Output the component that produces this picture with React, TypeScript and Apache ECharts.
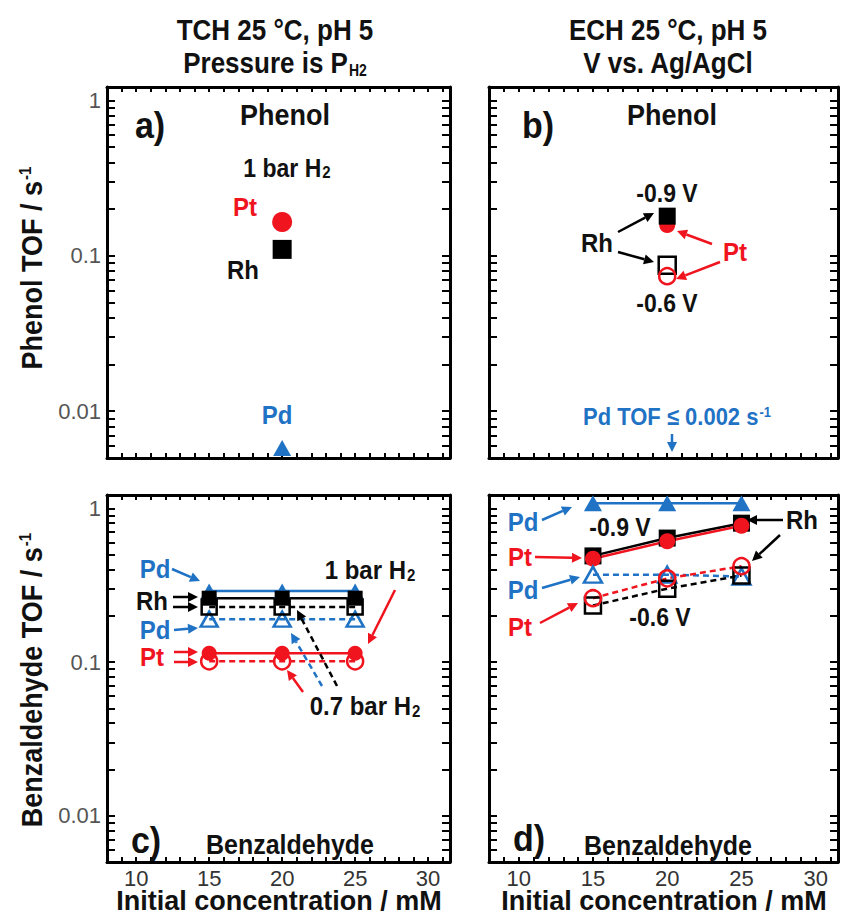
import React, { useEffect, useRef } from 'react';
import * as echarts from 'echarts';

// ---------- data ----------
const concentrations = [15, 20, 25]; // mM, benzaldehyde runs
const phenolConcentration = [20]; // mM, phenol runs

// a) TCH, phenol, 1 bar H2
const tchPhenolPt = [0.165];
const tchPhenolRh = [0.11];
const tchPhenolPd = [0.0058];

// b) ECH, phenol
const echPhenolRhM09 = [0.18];
const echPhenolPtM09 = [0.158];
const echPhenolRhM06 = [0.087];
const echPhenolPtM06 = [0.074];

// c) TCH, benzaldehyde
const tchBenzPd1bar = [0.29, 0.29, 0.29];
const tchBenzRh1bar = [0.26, 0.26, 0.26];
const tchBenzRh07bar = [0.228, 0.228, 0.228];
const tchBenzPd07bar = [0.19, 0.19, 0.19];
const tchBenzPt1bar = [0.114, 0.114, 0.114];
const tchBenzPt07bar = [0.101, 0.101, 0.101];

// d) ECH, benzaldehyde
const echBenzPdM09 = [1.08, 1.08, 1.08];
const echBenzRhM09 = [0.49, 0.64, 0.8];
const echBenzPtM09 = [0.47, 0.61, 0.77];
const echBenzPdM06 = [0.37, 0.37, 0.36];
const echBenzPtM06 = [0.26, 0.35, 0.42];
const echBenzRhM06 = [0.233, 0.3, 0.365];

// ---------- ticks ----------
const xTickLabels = [10, 15, 20, 25, 30];
const xTicks = [8, 9, 10, 11, 12, 13, 14, 15, 16, 17, 18, 19, 20, 21, 22, 23, 24, 25, 26, 27, 28, 29, 30, 31];
const yTickLabels = [0.01, 0.1, 1];
const yTicks = [
  0.005, 0.006, 0.007, 0.008, 0.009,
  0.01, 0.02, 0.03, 0.04, 0.05, 0.06, 0.07, 0.08, 0.09,
  0.1, 0.2, 0.3, 0.4, 0.5, 0.6, 0.7, 0.8, 0.9, 1,
];
const xTitle = 'Initial concentration / mM';

const FONT = '"Liberation Sans", Arial, Helvetica, sans-serif';
const RED = '#f0141e';
const BLUE = '#1f72c4';
const BLACK = '#000000';

const grids = [
  { left: 107, top: 87, width: 343, height: 371 },
  { left: 489, top: 87, width: 349, height: 371 },
  { left: 107, top: 495, width: 343, height: 367 },
  { left: 489, top: 495, width: 349, height: 367 },
];

function buildAxes() {
  const xAxis: any[] = [];
  const yAxis: any[] = [];
  grids.forEach((_, i) => {
    const bottomRow = i >= 2;
    const leftCol = i % 2 === 0;
    ['bottom', 'top'].forEach((pos) => {
      const lab = bottomRow && pos === 'bottom';
      xAxis.push({
        type: 'value',
        gridIndex: i,
        position: pos,
        min: 8,
        max: 31.5,
        axisLine: { show: true, onZero: false, lineStyle: { color: BLACK, width: 3 } },
        axisTick: { show: true, inside: true, length: 5, customValues: xTicks, lineStyle: { color: BLACK, width: 2 } },
        axisLabel: {
          show: lab,
          customValues: xTickLabels,
          color: '#333',
          fontSize: 22,
          fontFamily: FONT,
          margin: 5,
        },
        splitLine: { show: false },
      });
    });
    ['left', 'right'].forEach((pos) => {
      const lab = leftCol && pos === 'left';
      yAxis.push({
        type: 'log',
        logBase: 10,
        gridIndex: i,
        position: pos,
        min: 0.005,
        max: 1.22,
        axisLine: { show: true, onZero: false, lineStyle: { color: BLACK, width: 3 } },
        axisTick: { show: true, inside: true, length: 8, customValues: yTicks, lineStyle: { color: BLACK, width: 2 } },
        axisLabel: {
          show: lab,
          customValues: yTickLabels,
          color: '#555',
          fontSize: 22,
          fontFamily: FONT,
          margin: 6,
          formatter: (v: number) => (v >= 1 ? '1' : String(+Number(v).toPrecision(3))),
        },
        splitLine: { show: false },
        minorTick: { show: false },
      });
    });
  });
  return { xAxis, yAxis };
}

function pts(xs: number[], ys: number[]) {
  return xs.map((x, k) => [x, ys[k]]);
}

function series(
  g: number,
  xs: number[],
  ys: number[],
  color: string,
  symbol: string,
  size: number | number[],
  filled: boolean,
  dashed: boolean,
) {
  return {
    type: 'line',
    xAxisIndex: g * 2,
    yAxisIndex: g * 2,
    data: pts(xs, ys),
    symbol,
    symbolSize: size,
    showSymbol: true,
    lineStyle: { color, width: 2.5, type: dashed ? [6, 4] : 'solid' },
    itemStyle: filled
      ? { color, borderColor: color, borderWidth: 0 }
      : { color: 'rgba(255,255,255,0)', borderColor: color, borderWidth: 2.5 },
    emphasis: { disabled: true },
    z: 3,
  };
}

// ---------- annotation helpers ----------
function txt(x: number, y: number, text: string, color: string, size: number, extra: any = {}) {
  return {
    type: 'text',
    x,
    y,
    scaleY: extra.scaleY ?? 1.1,
    rotation: extra.rotation ?? 0,
    silent: true,
    z: 100,
    style: {
      text,
      fill: color,
      font: `${extra.weight ?? 'bold'} ${size}px ${FONT}`,
      textAlign: extra.align ?? 'center',
      textVerticalAlign: 'middle',
      rich: extra.rich,
    },
  };
}

function sub(size: number, color: string) {
  return { fontSize: size, fontWeight: 'bold', fontFamily: FONT, fill: color, verticalAlign: 'bottom', padding: [0, 0, 0, 1] };
}
function sup(size: number, color: string) {
  return { fontSize: size, fontWeight: 'bold', fontFamily: FONT, fill: color, verticalAlign: 'top', padding: [0, 0, 0, 1] };
}

function arrow(x1: number, y1: number, x2: number, y2: number, color: string, dashed = false) {
  const dx = x2 - x1;
  const dy = y2 - y1;
  const len = Math.hypot(dx, dy);
  const ux = dx / len;
  const uy = dy / len;
  const hl = 10;
  const hw = 5;
  const bx = x2 - ux * hl;
  const by = y2 - uy * hl;
  return [
    {
      type: 'line',
      silent: true,
      z: 100,
      shape: { x1, y1, x2: bx, y2: by },
      style: { stroke: color, lineWidth: 2.5, lineDash: dashed ? [6, 4] : null },
    },
    {
      type: 'polygon',
      silent: true,
      z: 100,
      shape: { points: [[x2, y2], [bx - uy * hw, by + ux * hw], [bx + uy * hw, by - ux * hw]] },
      style: { fill: color },
    },
  ];
}

function buildGraphics() {
  const g: any[] = [];
  // column titles
  g.push(txt(275, 30, 'TCH 25 °C, pH 5', '#111', 26, { scaleY: 1.15 }));
  g.push(txt(275, 63, 'Pressure is P{s|H2}', '#111', 26, { scaleY: 1.15, rich: { s: sub(14, '#111') } }));
  g.push(txt(668, 30, 'ECH 25 °C, pH 5', '#111', 26, { scaleY: 1.15 }));
  g.push(txt(668, 63, 'V vs. Ag/AgCl', '#111', 26, { scaleY: 1.15 }));
  // y titles
  g.push(txt(32, 268, 'Phenol TOF / s{p|-1}', '#111', 27, { rotation: Math.PI / 2, rich: { p: sup(15, '#111') } }));
  g.push(txt(32, 680, 'Benzaldehyde TOF / s{p|-1}', '#111', 27, { rotation: Math.PI / 2, rich: { p: sup(15, '#111') } }));
  // x titles
  g.push(txt(279, 900, xTitle, '#111', 27, { scaleY: 1.05 }));
  g.push(txt(664, 900, xTitle, '#111', 27, { scaleY: 1.05 }));

  // panel a
  g.push(txt(150, 125, 'a)', '#111', 34));
  g.push(txt(285, 115, 'Phenol', '#111', 27));
  g.push(txt(287, 168, '1 bar H{s|2}', '#111', 23, { rich: { s: sub(15, '#111') } }));
  g.push(txt(245, 207, 'Pt', RED, 24));
  g.push(txt(243, 270, 'Rh', '#111', 24));
  g.push(txt(277, 415, 'Pd', BLUE, 24));

  // panel b
  g.push(txt(538, 125, 'b)', '#111', 34));
  g.push(txt(672, 115, 'Phenol', '#111', 27));
  g.push(txt(667, 193, '-0.9 V', '#111', 23));
  g.push(txt(597, 243, 'Rh', '#111', 24));
  g.push(txt(735, 252, 'Pt', RED, 24));
  g.push(txt(667, 303, '-0.6 V', '#111', 23));
  g.push(...arrow(618, 232, 654, 213, BLACK));
  g.push(...arrow(618, 252, 654, 262, BLACK));
  g.push(...arrow(712, 244, 677, 231, RED));
  g.push(...arrow(720, 262, 676, 279, RED));
  g.push(txt(677, 417, 'Pd TOF ≤ 0.002 s{p|-1}', BLUE, 22, { rich: { p: sup(13, BLUE) } }));
  g.push(...arrow(672, 434, 672, 452, BLUE));

  // panel c
  g.push(txt(155, 569, 'Pd', BLUE, 24));
  g.push(...arrow(172, 569, 200, 581, BLUE));
  g.push(txt(152, 601, 'Rh', '#111', 24));
  g.push(...arrow(173, 597, 198, 597, BLACK));
  g.push(...arrow(173, 607, 198, 607, BLACK));
  g.push(txt(155, 630, 'Pd', BLUE, 24));
  g.push(...arrow(174, 630, 198, 628, BLUE));
  g.push(txt(152, 657, 'Pt', RED, 24));
  g.push(...arrow(174, 652, 198, 652, RED));
  g.push(...arrow(174, 662, 198, 662, RED));
  g.push(txt(370, 570, '1 bar H{s|2}', '#111', 24, { rich: { s: sub(15, '#111') } }));
  g.push(...arrow(395, 590, 368, 644, RED));
  g.push(txt(365, 706, '0.7 bar H{s|2}', '#111', 24, { rich: { s: sub(15, '#111') } }));
  g.push(...arrow(303, 692, 287, 670, RED));
  g.push(...arrow(322, 686, 291, 633, BLUE, true));
  g.push(...arrow(337, 686, 297, 610, BLACK, true));
  g.push(txt(146, 840, 'c)', '#111', 34));
  g.push(txt(290, 845, 'Benzaldehyde', '#111', 25));

  // panel d
  g.push(txt(523, 522, 'Pd', BLUE, 24));
  g.push(...arrow(542, 520, 572, 507, BLUE));
  g.push(txt(620, 527, '-0.9 V', '#111', 23));
  g.push(txt(802, 520, 'Rh', '#111', 24));
  g.push(...arrow(783, 520, 747, 520, BLACK));
  g.push(...arrow(780, 535, 752, 561, BLACK));
  g.push(txt(520, 557, 'Pt', RED, 24));
  g.push(...arrow(535, 557, 582, 558, RED));
  g.push(txt(523, 590, 'Pd', BLUE, 24));
  g.push(...arrow(542, 588, 580, 577, BLUE));
  g.push(txt(520, 627, 'Pt', RED, 24));
  g.push(...arrow(540, 623, 578, 603, RED));
  g.push(txt(660, 617, '-0.6 V', '#111', 23));
  g.push(txt(529, 838, 'd)', '#111', 34));
  g.push(txt(668, 846, 'Benzaldehyde', '#111', 25));
  return g;
}

export default function App() {
  const ref = useRef<HTMLDivElement>(null);
  useEffect(() => {
    document.body.style.margin = '0';
    if (!ref.current) return;
    const chart = echarts.init(ref.current, undefined, { renderer: 'svg' });
    const { xAxis, yAxis } = buildAxes();
    const s: any[] = [
      // a
      series(0, phenolConcentration, tchPhenolRh, BLACK, 'rect', 19, true, false),
      series(0, phenolConcentration, tchPhenolPt, RED, 'circle', 20, true, false),
      series(0, phenolConcentration, tchPhenolPd, BLUE, 'triangle', [18, 16], true, false),
      // b
      series(1, phenolConcentration, echPhenolPtM09, RED, 'circle', 16, true, false),
      series(1, phenolConcentration, echPhenolRhM09, BLACK, 'rect', 17, true, false),
      series(1, phenolConcentration, echPhenolRhM06, BLACK, 'rect', 17, false, false),
      series(1, phenolConcentration, echPhenolPtM06, RED, 'circle', 16, false, false),
      // c
      series(2, concentrations, tchBenzPd07bar, BLUE, 'triangle', [17, 15], false, true),
      series(2, concentrations, tchBenzPd1bar, BLUE, 'triangle', [17, 15], true, false),
      series(2, concentrations, tchBenzRh07bar, BLACK, 'rect', 15, false, true),
      series(2, concentrations, tchBenzRh1bar, BLACK, 'rect', 15, true, false),
      series(2, concentrations, tchBenzPt07bar, RED, 'circle', 16, false, true),
      series(2, concentrations, tchBenzPt1bar, RED, 'circle', 15, true, false),
      // d
      series(3, concentrations, echBenzPdM09, BLUE, 'triangle', [18, 16], true, false),
      series(3, concentrations, echBenzRhM09, BLACK, 'rect', 17, true, false),
      series(3, concentrations, echBenzPtM09, RED, 'circle', 16, true, false),
      series(3, concentrations, echBenzPdM06, BLUE, 'triangle', [18, 16], false, true),
      series(3, concentrations, echBenzRhM06, BLACK, 'rect', 16, false, true),
      series(3, concentrations, echBenzPtM06, RED, 'circle', 16, false, true),
    ];
    chart.setOption({
      animation: false,
      backgroundColor: '#ffffff',
      textStyle: { fontFamily: FONT },
      grid: grids.map((g) => ({ ...g, containLabel: false, outerBoundsMode: 'none' })),
      xAxis,
      yAxis,
      series: s,
      graphic: buildGraphics(),
    });
    return () => chart.dispose();
  }, []);
  return <div ref={ref} style={{ width: 850, height: 917 }} />;
}
